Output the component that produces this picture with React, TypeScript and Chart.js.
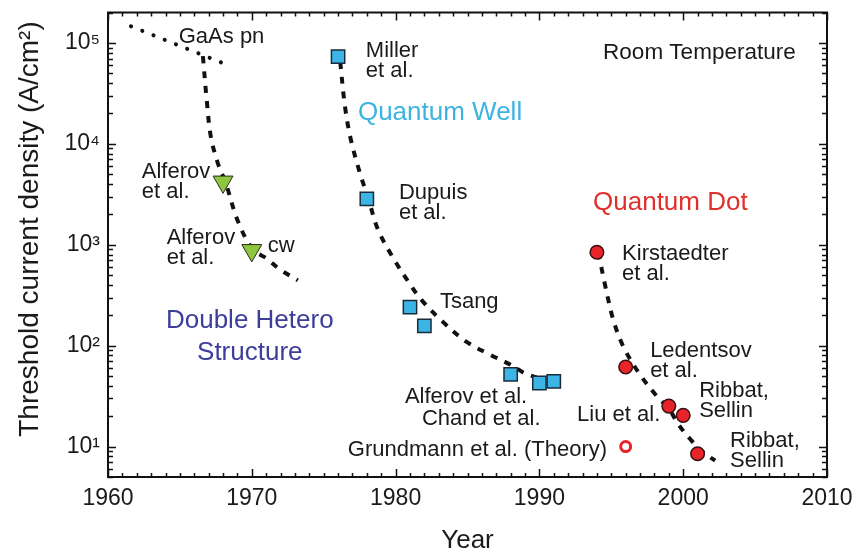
import React, { useEffect, useRef } from 'react';
import { Chart, registerables } from 'chart.js';

Chart.register(...registerables);

const FONT = "'Liberation Sans', Arial, Helvetica, sans-serif";
const TEXT = '#1a1a1a';

// ---- axes ----
const xMin = 1960;
const xMax = 2010;
const yMin = 5;
const yMax = 200000;
const xTickYears = [1960, 1970, 1980, 1990, 2000, 2010];
const yTickValues = [10, 100, 1000, 10000, 100000];
const yTickLabels = ['10\u00B9', '10\u00B2', '10\u00B3', '10\u2074', '10\u2075'];
const xTitle = 'Year';
const yTitle = 'Threshold current density (A/cm\u00B2)';

// ---- measured points ----
const dhYears = [1968, 1970];
const dhValues = [4200, 880];
const qwYears = [1976, 1978, 1981, 1982, 1988, 1990, 1991];
const qwValues = [73000, 2850, 241, 157, 52, 42.7, 44.3];
const qdYears = [1994, 1996, 1999, 2000, 2001];
const qdValues = [843, 61.5, 25.2, 20.4, 8.5];
const theoryYears = [1996];
const theoryValues = [10];

// ---- trend guide lines ----
const gaasTrendYears = [1961.6, 1968.3];
const gaasTrendValues = [146000, 60500];
const dhTrendYears = [1966.6, 1966.87, 1967.15, 1967.64, 1968.19, 1969.02, 1970.07, 1971.04, 1971.95, 1973.2];
const dhTrendValues = [73800, 26700, 11800, 6420, 4080, 1730, 898, 731, 570, 444];
const qwTrendYears = [1976.15, 1976.47, 1976.87, 1977.52, 1978.09, 1978.77, 1979.81, 1980.99, 1981.81, 1983.29, 1984.94, 1986.56, 1988.09, 1989.0, 1989.8];
const qwTrendValues = [65000, 24000, 11300, 5120, 2910, 1420, 748, 409, 283, 172, 109, 81.6, 63.7, 53.1, 48.5];
const qdTrendYears = [1994.1, 1994.57, 1995.14, 1995.84, 1997.0, 1998.27, 1998.97, 1999.67, 2000.48, 2001.41, 2002.22];
const qdTrendValues = [843, 397, 180, 97.7, 51.5, 30.4, 24.2, 16.6, 11.9, 8.75, 7.26];

// ---- text annotations (anchored in data coordinates: left / first baseline) ----
const annotations = [
  { lines: ['GaAs pn'], year: 1964.92, value: 100200, size: 22, color: TEXT, align: 'left' },
  { lines: ['Alferov', 'et al.'], year: 1962.35, value: 4570, size: 22, color: TEXT, align: 'left' },
  { lines: ['Alferov', 'et al.'], year: 1964.08, value: 1028, size: 22, color: TEXT, align: 'left' },
  { lines: ['cw'], year: 1971.11, value: 857, size: 22, color: TEXT, align: 'left' },
  { lines: ['Double Hetero', 'Structure'], year: 1969.86, value: 150, size: 26, color: '#3d3d9b', align: 'center', lh: 32 },
  { lines: ['Miller', 'et al.'], year: 1977.93, value: 72600, size: 22, color: TEXT, align: 'left' },
  { lines: ['Quantum Well'], year: 1977.38, value: 17400, size: 26, color: '#3cb4e2', align: 'left' },
  { lines: ['Dupuis', 'et al.'], year: 1980.23, value: 2840, size: 22, color: TEXT, align: 'left' },
  { lines: ['Tsang'], year: 1983.08, value: 234, size: 22, color: TEXT, align: 'left' },
  { lines: ['Alferov et al.'], year: 1980.65, value: 26.9, size: 22, color: TEXT, align: 'left' },
  { lines: ['Chand et al.'], year: 1981.83, value: 16.4, size: 22, color: TEXT, align: 'left' },
  { lines: ['Grundmann et al. (Theory)'], year: 1976.68, value: 8.13, size: 22, color: TEXT, align: 'left' },
  { lines: ['Quantum Dot'], year: 1993.73, value: 2220, size: 26, color: '#e0302c', align: 'left' },
  { lines: ['Room Temperature'], year: 1994.43, value: 69800, size: 22.5, color: TEXT, align: 'left' },
  { lines: ['Kirstaedter', 'et al.'], year: 1995.75, value: 700, size: 22, color: TEXT, align: 'left' },
  { lines: ['Ledentsov', 'et al.'], year: 1997.7, value: 78, size: 22, color: TEXT, align: 'left' },
  { lines: ['Ribbat,', 'Sellin'], year: 2001.11, value: 30.8, size: 22, color: TEXT, align: 'left' },
  { lines: ['Liu et al.'], year: 1992.62, value: 17.9, size: 22, color: TEXT, align: 'left' },
  { lines: ['Ribbat,', 'Sellin'], year: 2003.26, value: 9.95, size: 22, color: TEXT, align: 'left' },
];

const pts = (xs: number[], ys: number[]) => xs.map((x, i) => ({ x, y: ys[i] }));

const decorPlugin = {
  id: 'decor',
  afterDatasetsDraw(chart: any) {
    const { ctx, chartArea: a, scales } = chart;
    const xs = scales.x;
    const ys = scales.y;
    ctx.save();
    ctx.strokeStyle = '#111';
    // ticks
    ctx.lineWidth = 1.5;
    ctx.beginPath();
    for (let yr = xMin; yr <= xMax; yr++) {
      const px = Math.round(xs.getPixelForValue(yr)) + 0.5;
      const len = yr % 10 === 0 ? 8 : 4;
      ctx.moveTo(px, a.bottom);
      ctx.lineTo(px, a.bottom - len);
      ctx.moveTo(px, a.top);
      ctx.lineTo(px, a.top + len);
    }
    for (let e = 0; e <= 5; e++) {
      for (let m = 1; m <= 9; m++) {
        const v = m * Math.pow(10, e);
        if (v < yMin || v > yMax) continue;
        const py = Math.round(ys.getPixelForValue(v)) + 0.5;
        const len = m === 1 ? 8 : 5;
        ctx.moveTo(a.left, py);
        ctx.lineTo(a.left + len, py);
        ctx.moveTo(a.right, py);
        ctx.lineTo(a.right - len, py);
      }
    }
    ctx.stroke();
    // frame
    ctx.lineWidth = 2;
    ctx.strokeRect(a.left, a.top, a.right - a.left, a.bottom - a.top);

    // annotations
    ctx.textBaseline = 'alphabetic';
    for (const an of annotations) {
      ctx.font = `${an.size}px ${FONT}`;
      ctx.fillStyle = an.color;
      ctx.textAlign = an.align as CanvasTextAlign;
      const px = xs.getPixelForValue(an.year);
      const py = ys.getPixelForValue(an.value);
      const lh = (an as any).lh || 20;
      an.lines.forEach((ln, i) => ctx.fillText(ln, px, py + i * lh));
    }

    // axis titles
    ctx.fillStyle = TEXT;
    ctx.textAlign = 'center';
    ctx.font = `26px ${FONT}`;
    ctx.fillText(xTitle, (a.left + a.right) / 2, 548);
    ctx.save();
    ctx.translate(30, 229);
    ctx.rotate(-Math.PI / 2);
    ctx.font = `28px ${FONT}`;
    ctx.textBaseline = 'middle';
    ctx.fillText(yTitle, 0, 0);
    ctx.restore();
    ctx.restore();
  },
};

export default function App() {
  const ref = useRef<HTMLCanvasElement | null>(null);
  useEffect(() => {
    const canvas = ref.current;
    if (!canvas) return;
    const dash = { borderColor: '#111', borderWidth: 4, borderDash: [7, 8], pointRadius: 0, showLine: true, fill: false, tension: 0.35 };
    const chart = new Chart(canvas, {
      type: 'scatter',
      data: {
        datasets: [
          { label: 'Double Hetero', data: pts(dhYears, dhValues), pointStyle: 'triangle', rotation: 180, pointRadius: 11.5, backgroundColor: '#8dc63f', borderColor: '#2a2a1a', borderWidth: 1 },
          { label: 'Quantum Well', data: pts(qwYears, qwValues), pointStyle: 'rect', pointRadius: 9.4, backgroundColor: '#3ab5e6', borderColor: '#1b2a3a', borderWidth: 1.5 },
          { label: 'Quantum Dot', data: pts(qdYears, qdValues), pointStyle: 'circle', pointRadius: 6.8, backgroundColor: '#e8232a', borderColor: '#3a1010', borderWidth: 1.5 },
          { label: 'Theory', data: pts(theoryYears, theoryValues), pointStyle: 'circle', pointRadius: 5, backgroundColor: '#ffffff', borderColor: '#e8232a', borderWidth: 3 },
          { label: 'GaAs trend', data: pts(gaasTrendYears, gaasTrendValues), borderColor: '#111', borderWidth: 4, borderDash: [0.1, 12], borderCapStyle: 'round', pointRadius: 0, showLine: true, fill: false },
          { label: 'DH trend', data: pts(dhTrendYears, dhTrendValues), ...dash },
          { label: 'QW trend', data: pts(qwTrendYears, qwTrendValues), ...dash },
          { label: 'QD trend', data: pts(qdTrendYears, qdTrendValues), ...dash },
        ] as any,
      },
      options: {
        responsive: false,
        animation: false,
        events: [],
        layout: { padding: { top: 8, right: 31, left: 0, bottom: 0 } },
        plugins: { legend: { display: false }, tooltip: { enabled: false }, title: { display: false } },
        scales: {
          x: {
            type: 'linear',
            min: xMin,
            max: xMax,
            afterBuildTicks: (s: any) => { s.ticks = xTickYears.map((v) => ({ value: v })); },
            afterFit: (s: any) => { s.height = 75; s.paddingLeft = 0; s.paddingRight = 0; },
            ticks: { font: { family: FONT, size: 23 }, color: TEXT, padding: 8, autoSkip: false, maxRotation: 0, callback: (v: any) => String(v) },
            grid: { display: false, drawTicks: false },
            border: { display: false },
          },
          y: {
            type: 'logarithmic',
            min: yMin,
            max: yMax,
            afterBuildTicks: (s: any) => { s.ticks = yTickValues.map((v) => ({ value: v })); },
            afterFit: (s: any) => { s.width = 108; s.paddingTop = 0; s.paddingBottom = 0; },
            ticks: { font: { family: FONT, size: 23 }, color: TEXT, padding: 8, autoSkip: false, callback: (_v: any, i: number) => yTickLabels[i] },
            grid: { display: false, drawTicks: false },
            border: { display: false },
          },
        },
      } as any,
      plugins: [decorPlugin],
    });
    return () => chart.destroy();
  }, []);
  return (
    <div style={{ position: 'fixed', left: 0, top: 0, width: 858, height: 552, background: '#fff' }}>
      <canvas ref={ref} width={858} height={552} style={{ display: 'block' }} />
    </div>
  );
}
